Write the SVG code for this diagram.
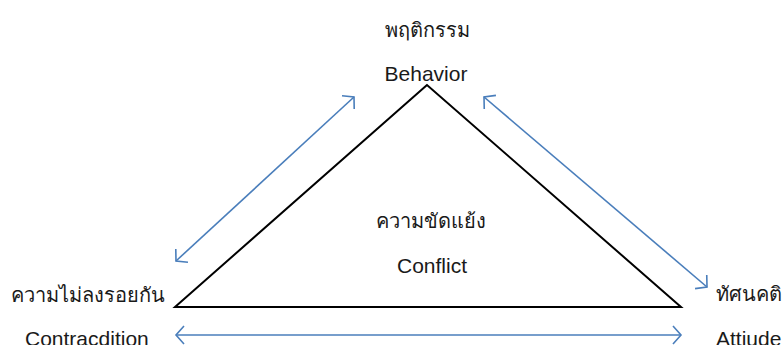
<svg xmlns="http://www.w3.org/2000/svg" width="783" height="345" viewBox="0 0 783 345">
<style>
text{font-family:"Liberation Sans","Noto Sans","DejaVu Sans",sans-serif;font-size:21px;fill:#1a1a1a}
.th{font-size:20px}
.c{stroke:#4a7ebb;stroke-width:1.6;fill:none}
.t{stroke:#000;stroke-width:2;fill:none;stroke-linejoin:miter}
</style>
<defs>
<marker id="ah" markerUnits="userSpaceOnUse" markerWidth="24" markerHeight="24" viewBox="-12 -12 24 24" refX="0" refY="0" orient="auto-start-reverse">
<path d="M-8,-9 L0,0 L-8,9" fill="none" stroke="#4a7ebb" stroke-width="1.6"/>
</marker>
</defs>
<rect width="783" height="345" fill="#fff"/>
<g id="triangle">
<polygon class="t" points="427,85 175,307 681,307"/>
</g>
<g id="connectors">
<line class="c" x1="176" y1="261" x2="354" y2="97" marker-start="url(#ah)" marker-end="url(#ah)"/>
<line class="c" x1="484" y1="97" x2="707" y2="287" marker-start="url(#ah)" marker-end="url(#ah)"/>
<line class="c" x1="176" y1="335" x2="681" y2="335" marker-start="url(#ah)" marker-end="url(#ah)"/>
</g>
<g id="node-behavior">
<text class="th" x="427" y="37" text-anchor="middle">พฤติกรรม</text>
<text x="426" y="81" text-anchor="middle">Behavior</text>
</g>
<g id="node-conflict">
<text class="th" x="431" y="228" text-anchor="middle">ความขัดแย้ง</text>
<text x="432" y="273" text-anchor="middle">Conflict</text>
</g>
<g id="node-contradiction">
<text class="th" x="165" y="302" text-anchor="end">ความไม่ลงรอยกัน</text>
<text x="25" y="346">Contracdition</text>
</g>
<g id="node-attitude">
<text class="th" x="716" y="301">ทัศนคติ</text>
<text x="716" y="346">Attiude</text>
</g>
</svg>
